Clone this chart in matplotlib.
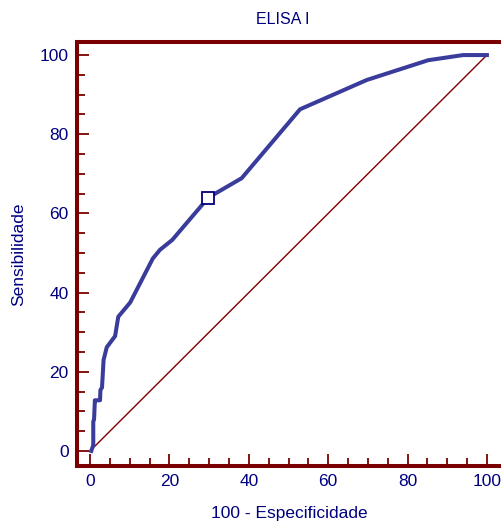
import numpy as np
import matplotlib.pyplot as plt
from matplotlib.ticker import MultipleLocator

plt.rcParams['font.family'] = ['Liberation Sans', 'DejaVu Sans']

# ROC curve (100 - specificity, sensitivity)
fpr = [0.3, 0.8, 0.8, 1.0, 1.2, 1.2, 2.5, 2.6, 3.0, 3.4, 4.2, 6.3, 7.1, 10.1,
       15.8, 17.6, 20.7, 29.8, 38.2, 52.9, 69.7, 85.2, 94.0, 100.0]
tpr = [0.0, 1.5, 7.4, 8.0, 12.7, 12.8, 12.8, 15.4, 16.0, 23.0, 26.2, 29.0, 33.9, 37.5,
       48.6, 50.8, 53.3, 64.0, 68.9, 86.3, 93.7, 98.7, 100.0, 100.0]

# criterion point (open square)
crit_x = [29.8]
crit_y = [64.0]

title = 'ELISA I'
xlabel = '100 - Especificidade'
ylabel = 'Sensibilidade'

spine_col = '#7a0000'
text_col = '#00007f'
curve_col = '#3a3c9c'

fig = plt.figure(figsize=(5.02, 5.23), dpi=100)
ax = fig.add_axes([77 / 502, 57 / 523, 425 / 502, 424 / 523])

ax.plot([0, 100], [0, 100], color='#800000', linewidth=1.0, zorder=2)
ax.plot(fpr, tpr, color=curve_col, linewidth=2.9, solid_joinstyle='round', zorder=3)
ax.plot(crit_x, crit_y, linestyle='none', marker='s', markersize=8.5,
        markerfacecolor='white', markeredgecolor=text_col, markeredgewidth=1.3, zorder=4)

ax.set_xlim(-3.3, 103.8)
ax.set_ylim(-3.8, 103.3)

for side in ['left', 'bottom', 'top']:
    ax.spines[side].set_color(spine_col)
    ax.spines[side].set_linewidth(2.9)
ax.spines['right'].set_visible(False)

ax.xaxis.set_minor_locator(MultipleLocator(5))
ax.yaxis.set_minor_locator(MultipleLocator(5))
ax.set_xticks([0, 20, 40, 60, 80, 100])
ax.set_yticks([0, 20, 40, 60, 80, 100])

ax.tick_params(which='both', direction='in', color=spine_col, width=1.3,
               top=False, right=False)
ax.tick_params(which='major', length=8.5, labelsize=12.5, labelcolor=text_col, pad=6)
ax.tick_params(which='minor', length=5.5)

ax.set_xlabel(xlabel, fontsize=12.5, color=text_col, labelpad=12)
ax.set_ylabel(ylabel, fontsize=12.5, color=text_col, labelpad=10)
ax.set_title(title, fontsize=11.5, color=text_col, pad=13, x=(283 - 77) / 425)

fig.savefig('out.png', dpi=100)
